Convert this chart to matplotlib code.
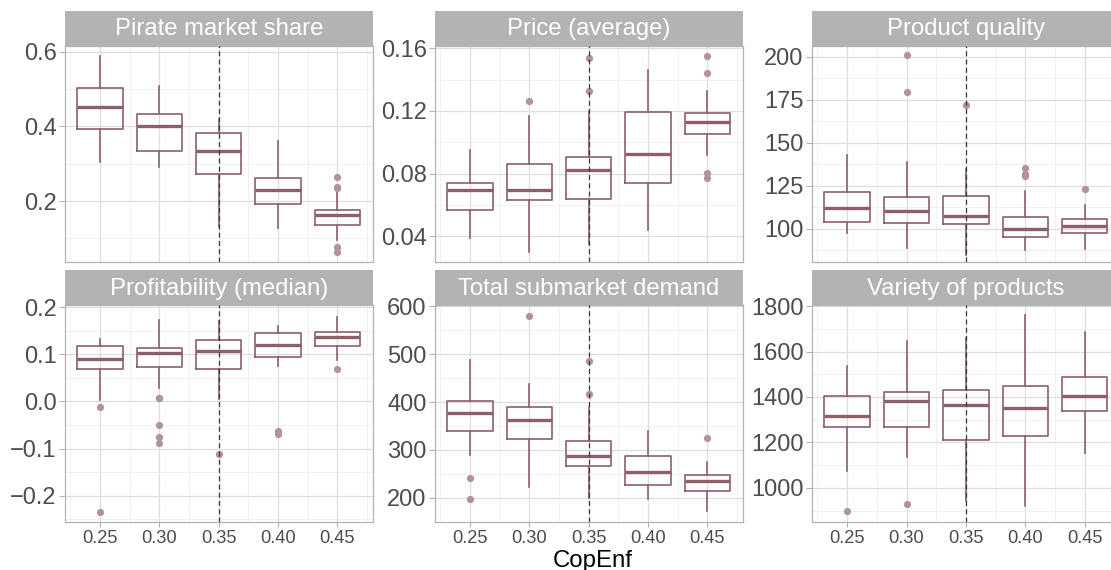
import numpy as np
import matplotlib
matplotlib.use("Agg")
import matplotlib.pyplot as plt
from matplotlib.ticker import MultipleLocator, FuncFormatter

plt.rcParams['font.family'] = ['Liberation Sans', 'DejaVu Sans']

copenf = [0.25, 0.30, 0.35, 0.40, 0.45]

# Pirate market share
share_lo = [0.304, 0.292, 0.13, 0.129, 0.096]
share_q1 = [0.394, 0.335, 0.273, 0.193, 0.136]
share_med = [0.451, 0.401, 0.334, 0.231, 0.162]
share_q3 = [0.504, 0.432, 0.383, 0.263, 0.175]
share_hi = [0.588, 0.508, 0.421, 0.362, 0.225]
share_out = [[], [], [], [], [0.265, 0.237, 0.234, 0.076, 0.063]]

# Price (average)
price_lo = [0.039, 0.030, 0.035, 0.0442, 0.0917]
price_q1 = [0.057, 0.063, 0.064, 0.074, 0.105]
price_med = [0.0698, 0.0693, 0.0821, 0.0924, 0.113]
price_q3 = [0.074, 0.0864, 0.0907, 0.1195, 0.1184]
price_hi = [0.0949, 0.117, 0.12, 0.146, 0.133]
price_out = [[], [0.1263], [0.154, 0.133], [], [0.155, 0.144, 0.0804, 0.0774]]

# Product quality
qual_lo = [97.7, 89.0, 85.0, 87.6, 88.6]
qual_q1 = [104.1, 103.7, 102.7, 95.5, 97.7]
qual_med = [112.2, 110.5, 107.4, 100.2, 101.7]
qual_q3 = [121.7, 118.6, 119.2, 107.2, 105.6]
qual_hi = [143.2, 139.1, 135.0, 122.1, 113.8]
qual_out = [[], [200.8, 179.5], [171.7], [135.1, 131.8, 130.8], [123.1]]

# Profitability (median)
prof_lo = [0.0035, 0.028, 0.005, 0.076, 0.088]
prof_q1 = [0.069, 0.074, 0.070, 0.095, 0.118]
prof_med = [0.091, 0.104, 0.107, 0.119, 0.137]
prof_q3 = [0.117, 0.114, 0.131, 0.145, 0.147]
prof_hi = [0.133, 0.174, 0.17, 0.161, 0.180]
prof_out = [[-0.0126, -0.234], [0.0084, 0.0070, -0.049, -0.075, -0.089], [-0.111],
            [-0.062, -0.069], [0.070]]

# Total submarket demand
dem_lo = [289.4, 222.2, 200.0, 197.2, 172.3]
dem_q1 = [338.6, 322.7, 267.2, 227.7, 213.2]
dem_med = [376.8, 363.6, 286.7, 253.4, 235.3]
dem_q3 = [402.4, 390.6, 318.5, 288.0, 248.5]
dem_hi = [487.7, 438.5, 390.0, 340.0, 275.6]
dem_out = [[241.6, 196.5], [580.6], [485.6, 416.3], [], [324.1]]

# Variety of products
var_lo = [1076, 1134.6, 944, 919.6, 1152]
var_q1 = [1266.2, 1266.2, 1212, 1226.7, 1339.3]
var_med = [1314.4, 1380.3, 1365.6, 1349.6, 1405]
var_q3 = [1402.2, 1419.8, 1430, 1449, 1490]
var_hi = [1536.8, 1646.4, 1661, 1759, 1686]
var_out = [[896], [929.8], [], [], []]

titles = ["Pirate market share", "Price (average)", "Product quality",
          "Profitability (median)", "Total submarket demand", "Variety of products"]

panels = [
    (share_lo, share_q1, share_med, share_q3, share_hi, share_out),
    (price_lo, price_q1, price_med, price_q3, price_hi, price_out),
    (qual_lo, qual_q1, qual_med, qual_q3, qual_hi, qual_out),
    (prof_lo, prof_q1, prof_med, prof_q3, prof_hi, prof_out),
    (dem_lo, dem_q1, dem_med, dem_q3, dem_hi, dem_out),
    (var_lo, var_q1, var_med, var_q3, var_hi, var_out),
]

ylims = [(0.037, 0.616), (0.0235, 0.1617), (80.8, 206.4),
         (-0.256, 0.205), (149.4, 603), (849.4, 1805)]
ysteps = [0.2, 0.04, 25, 0.1, 100, 200]
yfmts = ["%.1f", "%.2f", "%.0f", "%.1f", "%.0f", "%.0f"]

W, H = 1111, 570
fig = plt.figure(figsize=(W / 100, H / 100), dpi=100)

col_x = [(65, 373), (435, 743), (812, 1120.5)]
row_y = [(11, 45.7, 262), (270, 305, 522)]

box_col = "#8c5f6b"
out_col = "#b3939b"
grid_major = "#dedede"
grid_minor = "#ececec"
strip_col = "#b3b3b3"

for i, (stats_src, title) in enumerate(zip(panels, titles)):
    r, c = divmod(i, 3)
    x0, x1 = col_x[c]
    ys, yp0, yp1 = row_y[r]

    ax = fig.add_axes([x0 / W, 1 - yp1 / H, (x1 - x0) / W, (yp1 - yp0) / H])
    sax = fig.add_axes([x0 / W, 1 - yp0 / H, (x1 - x0) / W, (yp0 - ys) / H])
    sax.set_facecolor(strip_col)
    sax.set_xticks([])
    sax.set_yticks([])
    for sp in sax.spines.values():
        sp.set_visible(False)
    sax.text(0.5 if c < 2 else (0.5 * 308 / (x1 - x0)), 0.47, title, color="white",
             fontsize=17.2, ha="center", va="center", transform=sax.transAxes)

    lo, q1, med, q3, hi, out = stats_src
    stats = []
    for k in range(len(copenf)):
        stats.append({"med": med[k], "q1": q1[k], "q3": q3[k],
                      "whislo": lo[k], "whishi": hi[k], "fliers": out[k]})
    ax.bxp(stats, positions=copenf, widths=0.038, manage_ticks=False,
           boxprops=dict(color=box_col, linewidth=1.2),
           whiskerprops=dict(color=box_col, linewidth=1.2),
           capprops=dict(linewidth=0),
           medianprops=dict(color=box_col, linewidth=2.4),
           flierprops=dict(marker="o", markersize=4.2, markerfacecolor=out_col,
                           markeredgecolor=out_col))
    ax.axvline(0.35, color="#3a3a3a", linestyle=(0, (4, 2.6)), linewidth=0.9, zorder=5)

    ax.set_xlim(0.2205, 0.48)
    ax.set_ylim(*ylims[i])
    ax.xaxis.set_major_locator(MultipleLocator(0.05))
    ax.xaxis.set_minor_locator(MultipleLocator(0.025))
    ax.yaxis.set_major_locator(MultipleLocator(ysteps[i]))
    ax.yaxis.set_minor_locator(MultipleLocator(ysteps[i] / 2))
    ax.grid(which="major", color=grid_major, linewidth=0.9)
    ax.grid(which="minor", color=grid_minor, linewidth=0.5)
    ax.set_axisbelow(True)
    for sp in ax.spines.values():
        sp.set_color("#b3b3b3")
        sp.set_linewidth(0.9)

    fmt = yfmts[i]
    ax.yaxis.set_major_formatter(FuncFormatter(
        lambda v, p, f=fmt: (f % v).replace("-", "\u2212") if abs(v) > 1e-12 else f % 0))
    ax.tick_params(axis="y", which="major", labelsize=17, labelcolor="#4d4d4d",
                   color="#b3b3b3", length=4, pad=2)
    ax.tick_params(which="minor", length=0)
    if r == 1:
        ax.xaxis.set_major_formatter(FuncFormatter(lambda v, p: "%.2f" % v))
        ax.tick_params(axis="x", which="major", labelsize=13.2, labelcolor="#4d4d4d",
                       color="#b3b3b3", length=3.5, pad=2)
    else:
        ax.tick_params(axis="x", which="major", labelbottom=False, length=0)

fig.text(592.5 / W, 1 - 567 / H, "CopEnf", fontsize=17.3, ha="center", va="baseline",
         color="black")

fig.savefig("out.png", dpi=100)
